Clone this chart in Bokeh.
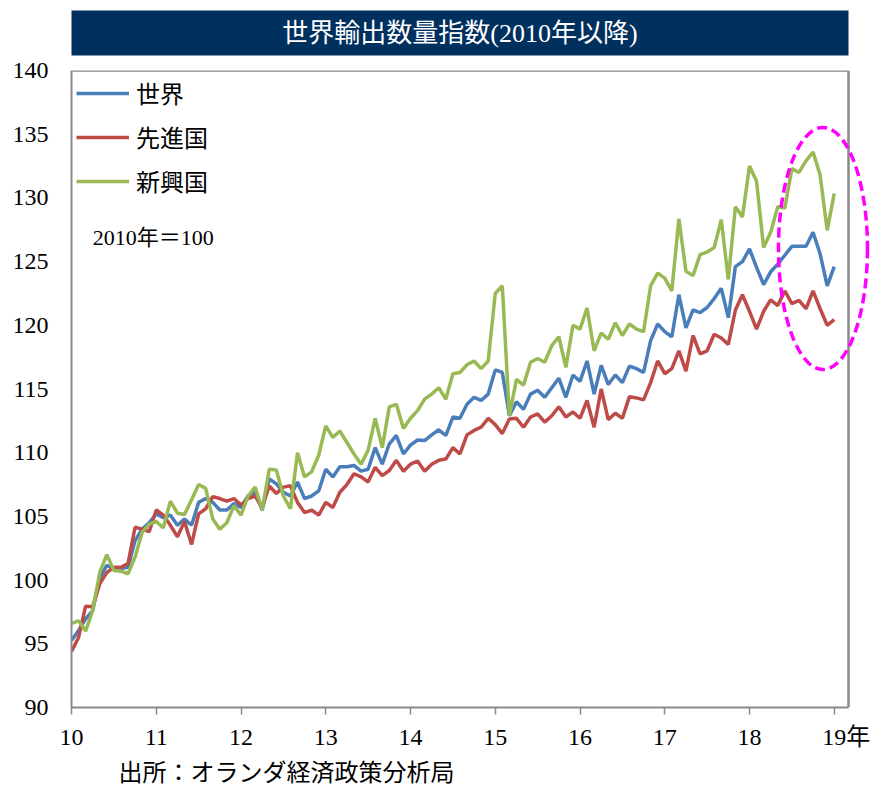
from bokeh.plotting import figure
from bokeh.models import Range1d, Label, FixedTicker, Title
from bokeh.layouts import column
from bokeh.core.properties import value
from bokeh.embed import file_html
from bokeh.resources import INLINE

# ---------------- data (monthly, Jan 2010 = first point, 2010 = 100) ----------------
world = [95.25, 96.05, 96.95, 97.6, 100.2, 101.15, 100.9, 100.9, 101.0, 103.1, 104.0, 104.5,
         105.2, 104.9, 105.1, 104.3, 104.8, 104.3, 106.1, 106.4, 106.1, 105.5, 105.5, 106.0,
         105.7, 106.6, 106.9, 105.5, 107.95, 107.55, 106.9, 106.6, 107.7, 106.4, 106.6, 107.0,
         108.7, 108.1, 108.9, 108.9, 109.0, 108.55, 108.7, 110.4, 109.1, 110.7, 111.35, 109.9,
         110.6, 111.0, 110.95, 111.4, 111.8, 111.35, 112.8, 112.7, 113.8, 114.35, 114.1, 114.6,
         116.5, 116.3, 112.9, 114.0, 113.4, 114.6, 114.9, 114.35, 115.1, 115.85, 114.35, 116.1,
         115.6, 117.2, 114.6, 116.85, 115.35, 116.1, 115.5, 116.8, 116.6, 116.3, 118.8, 120.1,
         119.5, 119.1, 122.4, 119.8, 121.2, 121.0, 121.4, 122.1, 122.9, 120.6, 124.6, 125.0,
         126.0, 124.55, 123.2, 124.2, 124.8, 125.5, 126.2, 126.2, 126.2, 127.3, 125.6, 123.1,
         124.6]
advanced = [94.4, 95.5, 97.95, 97.9, 99.7, 100.6, 101.0, 101.0, 101.3, 104.15, 104.0, 103.8,
            105.5, 105.1, 104.3, 103.4, 104.6, 102.8, 105.2, 105.6, 106.55, 106.4, 106.2, 106.4,
            105.9, 106.4, 106.6, 105.7, 107.4, 106.8, 107.3, 107.4, 106.1, 105.3, 105.5, 105.1,
            106.1, 105.7, 106.9, 107.5, 108.35, 108.1, 107.7, 108.85, 108.2, 108.6, 109.4, 108.55,
            109.1, 109.35, 108.55, 109.1, 109.4, 109.5, 110.4, 109.9, 111.4, 111.75, 112.0, 112.7,
            112.2, 111.5, 112.65, 112.7, 112.0, 112.8, 113.05, 112.4, 112.9, 113.6, 112.8, 113.2,
            112.7, 114.1, 112.0, 115.0, 112.6, 113.1, 112.7, 114.4, 114.3, 114.15, 115.5, 117.2,
            116.2, 116.6, 118.0, 116.4, 119.2, 117.75, 118.0, 119.3, 119.0, 118.5, 121.2, 122.4,
            121.1, 119.7, 121.1, 122.0, 121.55, 122.7, 121.7, 121.95, 121.3, 122.7, 121.3, 120.0,
            120.45]
emerging = [96.6, 96.8, 96.0, 97.6, 100.6, 102.0, 100.75, 100.7, 100.5, 101.8, 103.75, 104.4,
            104.6, 104.1, 106.2, 105.25, 105.15, 106.3, 107.5, 107.2, 104.8, 104.0, 104.5, 105.85,
            105.1, 106.6, 107.3, 105.5, 108.7, 108.65, 106.6, 105.6, 110.0, 108.1, 108.5, 109.8,
            112.1, 111.2, 111.7, 110.8, 109.9, 109.1, 110.2, 112.7, 110.4, 113.6, 113.8, 111.9,
            112.7, 113.3, 114.2, 114.6, 115.1, 114.2, 116.2, 116.3, 116.9, 117.2, 116.6, 117.2,
            122.5, 123.1, 112.9, 115.75, 115.3, 117.1, 117.4, 117.1, 118.4, 119.1, 116.7, 120.0,
            119.7, 121.35, 118.0, 119.4, 118.9, 120.2, 119.2, 120.1, 119.7, 119.5, 123.1, 124.1,
            123.7, 122.7, 128.35, 124.25, 123.9, 125.55, 125.75, 126.1, 128.3, 123.6, 129.3, 128.5,
            132.5, 131.3, 126.1, 127.3, 129.3, 129.2, 132.3, 132.0, 132.9, 133.6, 131.8, 127.45,
            130.35]
series_names = ["世界", "先進国", "新興国"]
series_colors = ["#4A7EBB", "#BE4B48", "#98B954"]
year_ticks = [10, 11, 12, 13, 14, 15, 16, 17, 18, 19]
year_labels = ["10", "11", "12", "13", "14", "15", "16", "17", "18", "\u300019年"]
y_ticks = [90, 95, 100, 105, 110, 115, 120, 125, 130, 135, 140]
title_text = "世界輸出数量指数(2010年以降)"
base_note = "2010年＝100"
source_note = "出所：オランダ経済政策分析局"

x = [10 + i / 12 for i in range(len(world))]

MIX = "'Liberation Serif', 'Noto Sans CJK JP'"
GRAY = "#898989"
W = 875

# ---------------- title bar ----------------
tf = figure(width=W, height=58, x_range=Range1d(0, 1), y_range=Range1d(0, 1),
            output_backend="svg", toolbar_location=None,
            min_border_left=71, min_border_right=27, min_border_top=10, min_border_bottom=3,
            x_axis_type=None, y_axis_type=None,
            background_fill_color="#00305E", outline_line_color=None, border_fill_color="white")
tf.text(x=[0.5], y=[0.5], text=[title_text], text_color="white",
        text_font=value(MIX), text_font_size="26px",
        text_align="center", text_baseline="middle")

# ---------------- main chart ----------------
px_per_year = 84.75
x_right = 10 + 777 / px_per_year   # right border of the box (about Mar 2019)
p = figure(frame_width=799, frame_height=637,
           x_range=Range1d(10, 10 + 799 / px_per_year), y_range=Range1d(90, 140),
           output_backend="svg", toolbar_location=None,
           min_border_left=71, min_border_right=5, min_border_top=12, min_border_bottom=0,
           outline_line_color=None, border_fill_color="white")
p.grid.visible = False

for vals, name, col in zip([world, advanced, emerging], series_names, series_colors):
    p.line(x, vals, line_color=col, line_width=3.5, legend_label=name)

# box border (top and right)
p.segment(x0=[10, x_right], y0=[140, 90], x1=[x_right, x_right], y1=[140, 140],
          line_color=GRAY, line_width=2.5)

# highlight ellipse
p.ellipse(x=[18.867], y=[126.03], width=[1.05], height=[19.0], fill_color=None,
          line_color="#FF00FF", line_width=3.5, line_dash="10 5")

xa = p.xaxis[0]
xa.ticker = FixedTicker(ticks=year_ticks)
xa.major_label_overrides = {t: s for t, s in zip(year_ticks, year_labels)}
xa.bounds = (10, x_right)
xa.axis_line_color = GRAY
xa.axis_line_width = 2
xa.major_tick_line_color = GRAY
xa.major_tick_line_width = 1.5
xa.major_tick_out = 7
xa.major_tick_in = 0
xa.minor_tick_line_color = None
xa.major_label_standoff = 9
xa.major_label_text_font = MIX
xa.major_label_text_font_size = "24px"
xa.major_label_text_color = "black"

ya = p.yaxis[0]
ya.ticker = FixedTicker(ticks=y_ticks)
ya.axis_line_color = GRAY
ya.axis_line_width = 2
ya.major_tick_out = 0
ya.major_tick_in = 0
ya.major_tick_line_color = None
ya.minor_tick_line_color = None
ya.major_label_standoff = 23
ya.major_label_text_font = MIX
ya.major_label_text_font_size = "24px"
ya.major_label_text_color = "black"

# legend
lg = p.legend[0]
lg.location = "top_left"
lg.margin = 5
lg.padding = 8
lg.spacing = 9
lg.label_height = 30
lg.glyph_height = 30
lg.glyph_width = 53
lg.label_standoff = 7
lg.label_text_font = MIX
lg.label_text_font_size = "24px"
lg.label_text_color = "black"
lg.background_fill_alpha = 0
lg.border_line_color = None

# note inside the frame
p.add_layout(Label(x=10.25, y=126.9, text=base_note, text_font=MIX, text_font_size="22px",
                   text_align="left", text_baseline="middle", text_color="black"))

# source note below the axis
p.add_layout(Title(text=source_note, align="left", offset=47, standoff=10,
                   text_font=MIX, text_font_size="24px", text_font_style="normal",
                   text_color="black"), "below")

layout = column(tf, p, spacing=0)
open("out.html", "w").write(file_html(layout, INLINE))
